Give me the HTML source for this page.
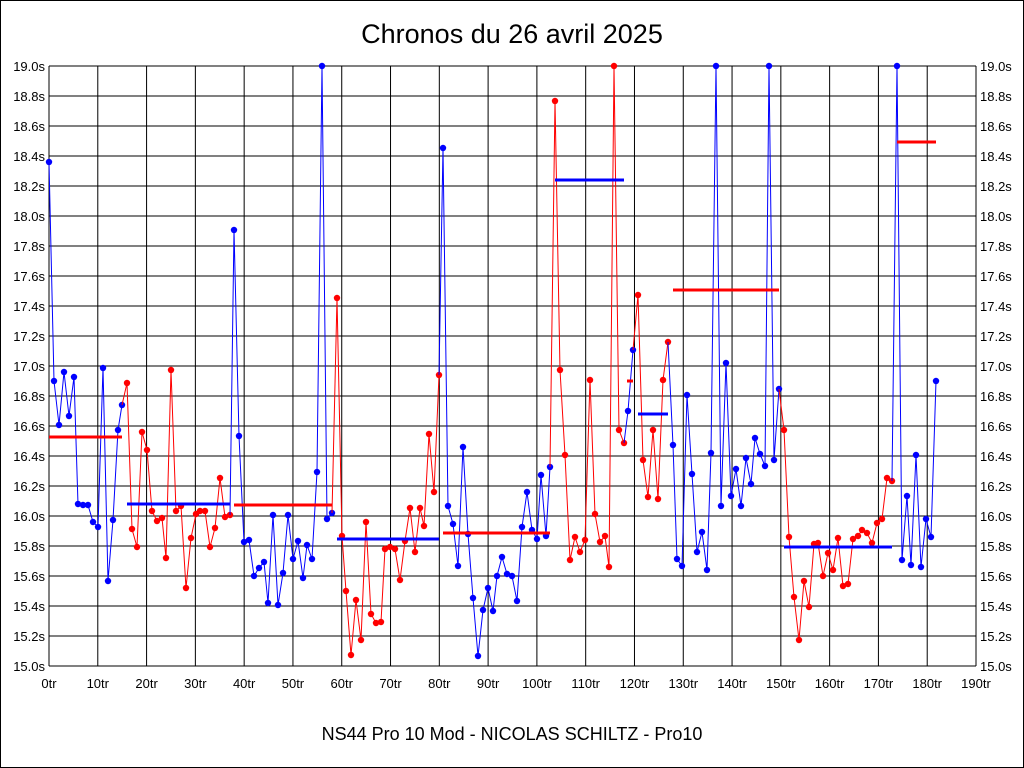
<!DOCTYPE html>
<html><head><meta charset="utf-8"><style>
body{margin:0;background:#fff}
svg{display:block;font-family:"Liberation Sans",sans-serif}
</style></head><body>
<svg id="s" width="1024" height="768" xmlns="http://www.w3.org/2000/svg">
<rect x="0.5" y="0.5" width="1023" height="767" fill="#fff" stroke="#000"/>
<text x="512" y="43" font-size="27" text-anchor="middle">Chronos du 26 avril 2025</text>
<text x="512" y="740" font-size="18" text-anchor="middle">NS44 Pro 10 Mod - NICOLAS SCHILTZ - Pro10</text>
<g id="g"></g>
</svg>
<script>
const g=document.getElementById('g');let h='';
const X0=49,X1=976,Y0=66,Y1=666;
for(let i=0;i<=19;i++){const x=X0+i*(X1-X0)/19;h+=`<line x1="${x}" y1="${Y0}" x2="${x}" y2="${Y1}" stroke="#000" stroke-width="1"/>`;
h+=`<text x="${x}" y="688" font-size="13" text-anchor="middle">${i*10}tr</text>`;}
for(let i=0;i<=20;i++){const y=Y0+i*30;h+=`<line x1="${X0}" y1="${y}" x2="${X1}" y2="${y}" stroke="#000" stroke-width="1"/>`;
const v=(19-i*0.2).toFixed(1)+'s';h+=`<text x="45" y="${y+5}" font-size="13" text-anchor="end">${v}</text><text x="980" y="${y+5}" font-size="13">${v}</text>`;}
const segs=[
['b','49,162 54,381 59,425 64,372 69,416 74,377 78,504 83,505 88,505 93,522 98,527 103,368 108,581 113,520 118,430 122,405'],
['r','127,383 132,529 137,547 142,432 147,450 152,511 157,521 162,518 166,558 171,370 176,511 181,506 186,588 191,538 196,514 200,511 205,511 210,547 215,528 220,478 225,517 230,515'],
['b','234,230 239,436 244,542 249,540 254,576 259,568 264,562 268,603 273,515 278,605 283,573 288,515 293,559 298,541 303,578 307,545 312,559 317,472 322,66 327,519 332,513'],
['r','337,298 342,536 346,591 351,655 356,600 361,640 366,522 371,614 376,623 381,622 385,549 390,547 395,549 400,580 405,541 410,508 415,552 420,508 424,526 429,434 434,492 439,375'],
['b','443,148 448,506 453,524 458,566 463,447 468,534 473,598 478,656 483,610 488,588 493,611 497,576 502,557 507,574 512,576 517,601 522,527 527,492 532,530 537,539 541,475 546,536 550,467'],
['r','555,101 560,370 565,455 570,560 575,537 580,552 585,540 590,380 595,514 600,542 605,536 609,567 614,66 619,430 624,443'],
['b','628,411 633,350'],
['r','638,295 643,460 648,497 653,430 658,499 663,380 668,342'],
['b','673,445 677,559 682,566 687,395 692,474 697,552 702,532 707,570 711,453 716,66 721,506 726,363 731,496 736,469 741,506 746,458 751,484 755,438 760,454 765,466 769,66 774,460 779,389'],
['r','784,430 789,537 794,597 799,640 804,581 809,607 814,544 818,543 823,576 828,553 833,570 838,538 843,586 848,584 853,539 858,536 862,530 867,533 872,543 877,523 882,519 887,478 892,481'],
['b','897,66 902,560 907,496 911,565 916,455 921,567 926,519 931,537 936,381']];
let prev=null;
for(const [c,p] of segs){const col=c=='b'?'#0000ff':'#ff0000';const pts=p.split(' ');
const all=(prev?[prev]:[]).concat(pts);
h+=`<polyline points="${all.join(' ')}" fill="none" stroke="${col}" stroke-width="1"/>`;
for(const q of pts){const [x,y]=q.split(',');h+=`<circle cx="${x}" cy="${y}" r="3.2" fill="${col}"/>`;}
prev=pts[pts.length-1];}
const means=[['r',49,122,437],['b',127,230,504],['r',234,332,505],['b',337,439,539],['r',443,550,533],['b',555,624,180],['r',627,633,381],['b',638,668,414],['r',673,779,290],['b',784,892,547],['r',897,936,142]];
for(const [c,a,b,y] of means)h+=`<line x1="${a}" y1="${y}" x2="${b}" y2="${y}" stroke="${c=='b'?'#0000ff':'#ff0000'}" stroke-width="3"/>`;
g.innerHTML=h;
</script>
</body></html>
